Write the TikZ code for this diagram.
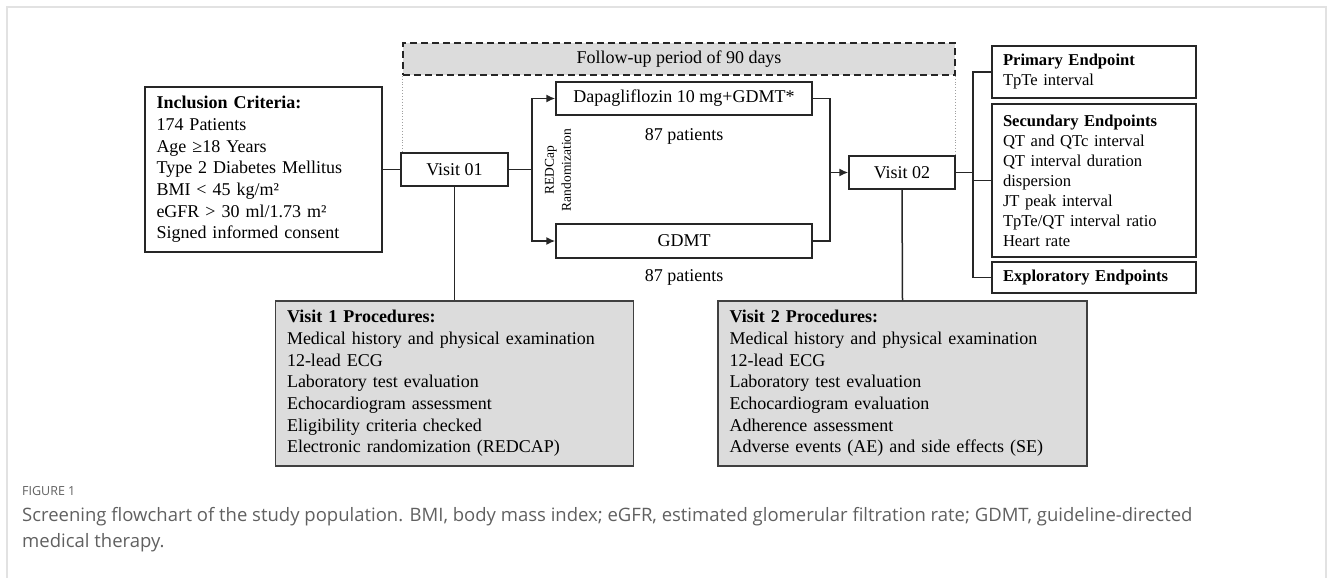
\documentclass[tikz,border=0pt]{standalone}
\usepackage{fontspec}
\setmainfont{Liberation Serif}
\newfontfamily\captionfont{Open Sans}
\usetikzlibrary{arrows.meta}
\definecolor{boxgray}{HTML}{DCDCDC}
\definecolor{framegray}{HTML}{E2E2E2}
\definecolor{captiongray}{HTML}{606060}

\begin{document}
\begin{tikzpicture}[x=1pt, y=-1pt]
        % Common styles
        \tikzstyle{box}=[draw=black!85, line width=1.5pt, fill=white, inner sep=0pt, font=\fontsize{18}{21.7}\selectfont]
        \tikzstyle{listbox}=[box, align=left, inner xsep=11.5pt]
        \tikzstyle{procbox}=[listbox, fill=boxgray, draw=black!75]
        \tikzstyle{endbox}=[listbox, inner xsep=11pt, font=\fontsize{16.6}{20}\selectfont]
        \tikzstyle{plain}=[inner sep=0pt, font=\fontsize{18}{21.7}\selectfont]
        \tikzstyle{link}=[line width=1.5pt, black!85]
        \tikzstyle{arrow}=[link, -{Latex[length=9pt, width=8pt]}]
        \tikzstyle{guide}=[line width=0.9pt, gray!75, dotted]

        \useasboundingbox (0,0) rectangle (1331,578);
        \draw[framegray, line width=1.5pt] (7,578) -- (7,7) -- (1326,7) -- (1326,578);

        % --- Follow-up period ---
        \node[box, fill=boxgray, dash pattern=on 7pt off 4pt, minimum width=552pt, minimum height=32pt] (follow) at (679,59) {Follow-up period of 90 days};

        % --- Inclusion and visits ---
        \node[listbox, text width=214pt, minimum height=165pt] (inc) at (263.5,169.5)
            {\textbf{Inclusion Criteria:}\\174 Patients\\Age ≥18 Years\\Type 2 Diabetes Mellitus\\BMI < 45 kg/m²\\eGFR > 30 ml/1.73 m²\\Signed informed consent};
        \node[box, minimum width=107pt, minimum height=33pt] (v1) at (454.5,169.5) {Visit 01};
        \node[box, minimum width=106pt, minimum height=33pt] (v2) at (902,172.5) {Visit 02};

        % --- Treatment arms ---
        \node[box, minimum width=256pt, minimum height=33pt] (dapa) at (684,98.5) {Dapagliflozin 10 mg+GDMT*};
        \node[box, minimum width=256pt, minimum height=34pt] (gdmt) at (684,241) {GDMT};
        \node[plain] (dapan) at (684,136) {87 patients};
        \node[plain] (gdmtn) at (684,277) {87 patients};
        \node[inner sep=0pt, rotate=90, align=center, font=\fontsize{13.5}{17}\selectfont] (redcap) at (558,170) {REDCap\\Randomization};

        % --- Procedures ---
        \node[procbox, text width=335pt, minimum height=165pt] (proc1) at (454.5,383.5)
            {\textbf{Visit 1 Procedures:}\\Medical history and physical examination\\12-lead ECG\\Laboratory test evaluation\\Echocardiogram assessment\\Eligibility criteria checked\\Electronic randomization (REDCAP)};
        \node[procbox, text width=346pt, minimum height=165pt] (proc2) at (902.5,383.5)
            {\textbf{Visit 2 Procedures:}\\Medical history and physical examination\\12-lead ECG\\Laboratory test evaluation\\Echocardiogram evaluation\\Adherence assessment\\Adverse events (AE) and side effects (SE)};

        % --- Endpoints ---
        \node[endbox, text width=182pt, minimum height=52pt] (prim) at (1094,72) {\textbf{Primary Endpoint}\\TpTe interval};
        \node[endbox, text width=182pt, minimum height=153pt] (sec) at (1094,180.5)
            {\textbf{Secundary Endpoints}\\QT and QTc interval\\QT interval duration\\dispersion\\JT peak interval\\TpTe/QT interval ratio\\Heart rate};
        \node[endbox, text width=182pt, minimum height=31pt] (expl) at (1094,277.5) {\textbf{Exploratory Endpoints}};

        % Connectors
        \coordinate (split) at (532,169.5);
        \coordinate (merge) at (830,172.5);
        \coordinate (ends) at (973,172.5);
        \draw[guide] (follow.south west) -- (follow.south west |- v1.north);
        \draw[guide] (follow.south east) -- (follow.south east |- v2.north);
        \draw[link] (inc.east) -- (v1.west);
        \draw[link] (v1.east) -- (split);
        \draw[arrow] (split) |- (dapa.west);
        \draw[arrow] (split) |- (gdmt.west);
        \draw[link] (dapa.east) -| (merge);
        \draw[link] (gdmt.east) -| (merge);
        \draw[arrow] (merge) -- (v2.west);
        \draw[link] (v1.south) -- (proc1.north);
        \draw[link] (v2.south) -- (proc2.north);
        \draw[link] (v2.east) -- (ends);
        \draw[link] (prim.west) -| (ends) |- (expl.west);
        \draw[link] (ends |- sec.west) -- (sec.west);

        % Caption
        \node[anchor=base west, inner sep=0pt, font=\captionfont\fontsize{12.5}{15}\selectfont, text=captiongray] (figlabel) at (22,495) {FIGURE 1};
        \node[anchor=base west, inner sep=0pt, font=\captionfont\fontsize{18.5}{24}\selectfont, text=captiongray] (capline1) at (22,521)
            {Screening flowchart of the study population. BMI, body mass index; eGFR, estimated glomerular filtration rate; GDMT, guideline-directed};
        \node[anchor=base west, inner sep=0pt, font=\captionfont\fontsize{18.5}{24}\selectfont, text=captiongray] (capline2) at (22,547) {medical therapy.};

\end{tikzpicture}
\end{document}
